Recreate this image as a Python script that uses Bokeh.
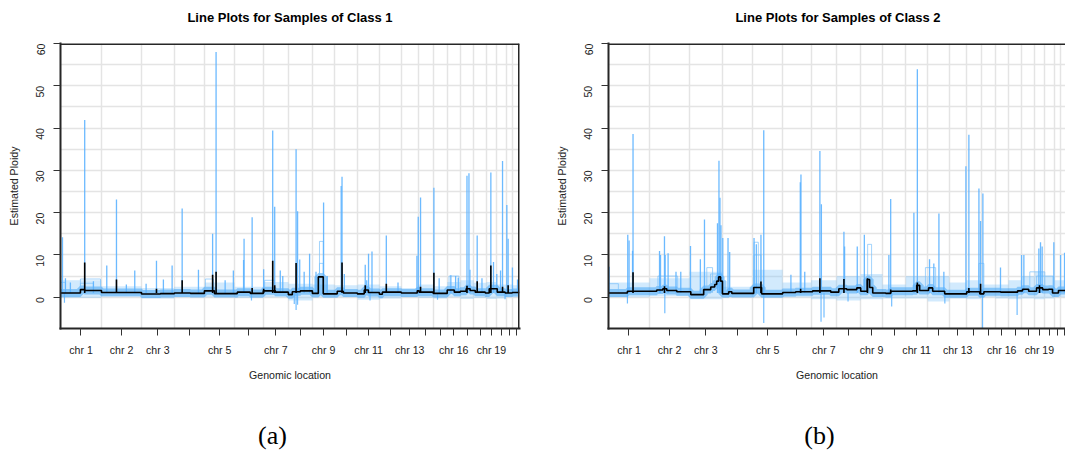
import math
from bokeh.plotting import figure
from bokeh.layouts import row, column
from bokeh.models import FixedTicker, Range1d, Span
from bokeh.core.properties import value
from bokeh.embed import file_html
from bokeh.resources import INLINE

# ---- genome layout (binned length of each autosome, Mb) ----
chrom_names = [str(i) for i in range(1, 23)]
chrom_len = [249, 243, 198, 186, 182, 172, 155, 146, 134, 140, 134,
             132, 101, 91, 85, 81, 81, 77, 61, 61, 38, 41]
labelled_chroms = ["1", "2", "3", "5", "7", "9", "11", "13", "16", "19"]
y_ticks = [0, 10, 20, 30, 40, 50, 60]

# ---- class 1 ----
c1_spike_x = [12, 30, 60, 147, 200, 281, 340, 400, 451, 520, 583, 625, 678, 739,
              838, 924, 945, 1000, 1050, 1112, 1115, 1164, 1234, 1289, 1301, 1335,
              1350, 1431, 1440, 1453, 1480, 1513, 1552, 1598, 1620, 1705, 1710, 1724,
              1851, 1860, 1871, 1892, 1979, 2050, 2165, 2173, 2187, 2268, 2300, 2371,
              2400, 2416, 2469, 2481, 2487, 2531, 2560, 2614, 2630, 2650, 2673, 2685,
              2711, 2719, 2745, 2776]
c1_spike_y = [14.2, 4.5, 3.5, 41.9, 3.8, 7.5, 23.1, 3.0, 6.3, 3.2, 8.6, 4.2, 7.5, 21.0,
              6.5, 15.0, 58.0, 4.0, 6.3, 8.8, 13.8, 18.9, 6.6, 39.4, 21.4, 6.3,
              5.0, 35.0, 20.3, 8.9, 6.0, 10.3, 6.0, 22.4, 5.0, 26.3, 28.5, 5.5,
              7.7, 4.0, 10.3, 10.8, 14.6, 3.5, 9.8, 19.0, 23.6, 25.9, 4.5, 5.2,
              5.0, 4.6, 28.7, 29.3, 6.5, 14.6, 4.5, 29.5, 8.3, 5.5, 6.3, 32.2,
              21.8, 13.8, 7.0, 4.2]
c1_dip_x = [24, 1160, 1420, 1431, 1440, 1880, 2290, 2700]
c1_dip_y = [-1.3, -0.8, -1.6, -3.0, -1.8, -0.8, -0.6, -0.5]
c1_plateau_x0 = [0, 121, 121, 880, 1240, 1573, 1573, 2360]
c1_plateau_x1 = [30, 243, 200, 929, 1300, 1596, 1596, 2420]
c1_plateau_y = [3.5, 4.3, 3.3, 4.3, 4.0, 13.2, 8.0, 5.0]
c1_mean_x = [0, 121, 146, 249, 492, 607, 692, 789, 874, 935, 1074, 1153, 1232, 1305,
             1384, 1408, 1457, 1530, 1566, 1596, 1681, 1718, 1803, 1845, 1870, 1937,
             1955, 2070, 2167, 2179, 2264, 2349, 2392, 2428, 2464, 2488, 2519, 2580,
             2604, 2653, 2701, 2744, 2788]
c1_mean_y = [1.0, 1.8, 1.6, 1.1, 0.75, 0.85, 1.0, 0.9, 1.5, 0.85, 1.2, 0.9, 1.5, 1.2,
             0.6, 1.3, 1.5, 0.9, 4.8, 0.8, 1.4, 1.0, 0.8, 1.7, 1.1, 0.7,
             1.2, 1.0, 1.5, 1.2, 0.9, 1.7, 1.2, 1.4, 2.0, 1.6, 1.2, 1.0,
             2.0, 1.2, 1.0, 1.1, 1.1]
c1_mean_spike_x = [147, 340, 583, 739, 924, 945, 1164, 1234, 1289, 1301, 1431, 1710,
                   1851, 1979, 2187, 2268, 2469, 2531, 2614, 2685, 2719]
c1_mean_spike_y = [8.2, 4.2, 2.0, 4.0, 5.3, 6.0, 2.2, 2.0, 8.6, 2.8, 8.1, 8.2,
                   2.8, 3.2, 2.5, 5.8, 2.7, 3.8, 7.5, 2.5, 2.8]
c1_band_lo = [-0.2, 0.2, -0.3, 0.0, 0.0, -0.2, 0.0, -0.8, 0.0, 0.0, -0.6,
              -0.3, 0.0, -0.2, -0.3, 0.0, -0.4, -0.2, -0.4, -0.3, 0.0, 0.0]
c1_band_hi = [4.0, 2.6, 2.2, 2.5, 3.5, 2.5, 3.6, 3.2, 3.0, 2.8, 3.0,
              2.6, 2.2, 3.0, 2.6, 3.6, 4.0, 3.4, 3.6, 3.0, 3.0, 2.8]

# ---- class 2 ----
c2_spike_x = [4, 117, 125, 146, 149, 310, 316, 340, 344, 362, 410, 439, 498, 558,
              583, 662, 671, 677, 683, 694, 726, 736, 884, 898, 926, 943, 1108,
              1165, 1169, 1192, 1284, 1293, 1430, 1434, 1511, 1554, 1703, 1714, 1855,
              1876, 1950, 1976, 2007, 2037, 2171, 2189, 2250, 2260, 2274, 2381, 2509,
              2523, 2614, 2624, 2634, 2705, 2746, 2770]
c2_spike_y = [7.2, 14.8, 13.4, 11.0, 38.6, 10.9, 10.0, 14.4, 10.0, 10.4, 6.0, 6.0, 12.1, 9.0,
              18.4, 17.5, 32.3, 23.5, 17.0, 14.0, 14.0, 10.7, 14.0, 12.5, 14.8, 39.5, 5.3,
              27.2, 29.0, 6.0, 34.6, 22.0, 15.5, 12.0, 12.0, 14.8, 10.0, 23.2, 20.0,
              53.9, 9.0, 8.0, 19.8, 6.0, 31.0, 38.4, 25.7, 18.0, 24.5, 7.0, 10.0,
              10.0, 11.5, 13.0, 12.0, 13.0, 10.0, 10.5]
c2_dip_x = [115, 342, 943, 1291, 1309, 1455, 1720, 2043, 2272, 2482]
c2_dip_y = [-1.5, -3.8, -6.1, -5.8, -4.8, -1.0, -2.2, -1.5, -7.4, -4.2]
c2_plateau_x0 = [0, 300, 597, 620, 884, 884, 1574, 1925, 2250, 2559, 2600]
c2_plateau_x1 = [60, 420, 632, 690, 926, 910, 1598, 1987, 2280, 2650, 2700]
c2_plateau_y = [3.2, 5.0, 7.0, 5.5, 10.0, 13.0, 12.5, 7.0, 8.0, 6.0, 5.0]
c2_mean_x = [0, 115, 293, 330, 354, 415, 500, 578, 621, 645, 657, 669, 681, 692, 730,
             749, 882, 930, 1058, 1137, 1240, 1350, 1399, 1447, 1508, 1532, 1572, 1586,
             1605, 1684, 1714, 1847, 1872, 1890, 1944, 1969, 2042, 2176, 2255, 2280,
             2382, 2485, 2515, 2552, 2600, 2637, 2673, 2697, 2733, 2788]
c2_mean_y = [1.0, 1.4, 1.7, 2.0, 1.6, 1.3, 0.6, 1.8, 2.4, 3.0, 3.8, 4.8, 3.8, 0.8, 1.3,
             0.9, 2.3, 0.8, 1.1, 1.3, 1.5, 1.2, 2.0, 1.8, 2.2, 1.4, 4.2, 2.3,
             1.0, 0.9, 1.4, 1.5, 2.8, 1.6, 2.2, 1.4, 0.8, 1.3, 0.8, 1.3,
             1.2, 1.5, 1.9, 1.4, 2.2, 1.8, 1.9, 1.0, 1.6, 1.6]
c2_mean_spike_x = [149, 340, 926, 1167, 1284, 1430, 1573, 1714, 1876, 2189, 2260, 2618]
c2_mean_spike_y = [5.9, 2.6, 3.7, 2.0, 4.5, 4.3, 4.5, 1.8, 3.5, 2.2, 3.2, 2.8]
c2_band_lo = [0.0, 0.2, -0.5, 0.0, 0.0, 0.0, -0.5, -0.8, -0.5, -0.3, -0.3,
              -1.0, -0.3, -0.5, 0.0, -0.3, -0.5, -0.3, -0.5, -0.3, 0.0, 0.0]
c2_band_hi = [3.5, 4.5, 6.0, 2.5, 6.5, 3.5, 4.0, 5.0, 5.5, 3.0, 5.0,
              5.0, 3.5, 4.0, 3.0, 3.0, 4.0, 5.0, 6.0, 5.0, 4.0, 4.0]

panel_titles = ["Line Plots for Samples of Class 1", "Line Plots for Samples of Class 2"]
panel_captions = ["(a)", "(b)"]

spike_base = 1.0
y_top = 60

# chromosome starts / ends / centres on the concatenated genome axis
chrom_start = []
acc = 0
for n in chrom_len:
    chrom_start.append(acc)
    acc += n
genome_len = acc
chrom_end = [s + n for s, n in zip(chrom_start, chrom_len)]
chrom_mid = [s + n / 2 for s, n in zip(chrom_start, chrom_len)]

FONT = "Liberation Sans"
BLUE = "#5CB3FF"
TXT = "#222222"
BOX = "#262626"


def panel(width, border_right, x_end, d, right_box):
    p = figure(width=width, height=370, x_range=Range1d(0, x_end), y_range=Range1d(-7.4, y_top),
               output_backend="svg", toolbar_location=None,
               min_border_left=60, min_border_right=border_right,
               min_border_top=13, min_border_bottom=72, background_fill_color="white",
               outline_line_color=None)

    # sample spread around the class mean
    p.varea_step(x=chrom_start + [genome_len], y1=d["lo"] + [d["lo"][-1]],
                 y2=d["hi"] + [d["hi"][-1]], step_mode="after",
                 fill_color="#7DC2FA", fill_alpha=0.35)
    p.step(d["mx"], d["my"], mode="after", line_width=8, line_color="#46A6F5", line_alpha=0.55)

    # stepped segments of individual samples
    xs = [[a, a, b, b] for a, b in zip(d["px0"], d["px1"])]
    ys = [[spike_base, lv, lv, spike_base] for lv in d["py"]]
    p.multi_line(xs, ys, line_color="#7CC2FB", line_width=1, line_alpha=0.7)

    # peaks and dips of individual samples
    p.segment(x0=d["sx"], y0=[spike_base] * len(d["sx"]), x1=d["sx"], y1=d["sy"],
              line_color=BLUE, line_width=1.3, line_alpha=0.9)
    p.segment(x0=d["dx"], y0=[spike_base] * len(d["dx"]), x1=d["dx"], y1=d["dy"],
              line_color=BLUE, line_width=1.2, line_alpha=0.85)

    # class mean
    p.segment(x0=d["msx"], y0=[spike_base] * len(d["msx"]), x1=d["msx"], y1=d["msy"],
              line_color="black", line_width=1.6)
    p.step(d["mx"], d["my"], mode="after", line_width=1.6, line_color="black")

    # axes
    xa = p.xaxis[0]
    xa.ticker = FixedTicker(ticks=chrom_mid)
    xa.major_label_overrides = {m: ("chr " + c if c in labelled_chroms else "")
                                for m, c in zip(chrom_mid, chrom_names)}
    ya = p.yaxis[0]
    ya.ticker = FixedTicker(ticks=y_ticks)
    ya.major_label_orientation = math.pi / 2
    for ax in (xa, ya):
        ax.axis_line_width = 2
        ax.axis_line_color = BOX
        ax.axis_line_cap = "square"
        ax.major_tick_out = 7
        ax.major_tick_in = 0
        ax.minor_tick_out = 0
        ax.minor_tick_in = 0
        ax.major_tick_line_color = "#333333"
        ax.major_label_text_font = FONT
        ax.major_label_text_font_size = "10.6px"
        ax.major_label_text_color = TXT
        ax.axis_label_text_font = FONT
        ax.axis_label_text_font_size = "10.6px"
        ax.axis_label_text_font_style = "normal"
        ax.axis_label_text_color = TXT
    xa.axis_label = "Genomic location"
    xa.major_label_standoff = 8
    xa.axis_label_standoff = 10
    ya.axis_label = "Estimated Ploidy"
    ya.major_label_standoff = 13
    ya.axis_label_standoff = 10

    # remaining sides of the plot box
    p.add_layout(Span(location=y_top, dimension="width", line_color=BOX, line_width=3))
    if right_box:
        p.add_layout(Span(location=x_end, dimension="height", line_color=BOX, line_width=3))

    # grid: chromosome boundaries and every 5 ploidy units
    p.xgrid.ticker = FixedTicker(ticks=chrom_end[:-1])
    p.ygrid.ticker = FixedTicker(ticks=list(range(0, 60, 5)))
    for g in (p.xgrid[0], p.ygrid[0]):
        g.grid_line_color = "#E4E4E4"
        g.grid_line_width = 1.5
    return p


def text_strip(height, xs, ys, texts, font, size, style):
    s = figure(width=1065, height=height, x_range=Range1d(0, 1065), y_range=Range1d(0, height),
               output_backend="svg", toolbar_location=None, min_border=0,
               outline_line_color=None, x_axis_location=None, y_axis_location=None)
    s.grid.visible = False
    s.text(x=xs, y=ys, text=texts, text_align="center", text_baseline="middle",
           text_font=value(font), text_font_size=size, text_font_style=style,
           text_color="black")
    return s


d1 = dict(sx=c1_spike_x, sy=c1_spike_y, dx=c1_dip_x, dy=c1_dip_y,
          px0=c1_plateau_x0, px1=c1_plateau_x1, py=c1_plateau_y,
          mx=c1_mean_x, my=c1_mean_y, msx=c1_mean_spike_x, msy=c1_mean_spike_y,
          lo=c1_band_lo, hi=c1_band_hi)
d2 = dict(sx=c2_spike_x, sy=c2_spike_y, dx=c2_dip_x, dy=c2_dip_y,
          px0=c2_plateau_x0, px1=c2_plateau_x1, py=c2_plateau_y,
          mx=c2_mean_x, my=c2_mean_y, msx=c2_mean_spike_x, msy=c2_mean_spike_y,
          lo=c2_band_lo, hi=c2_band_hi)

p1 = panel(548, 29, genome_len, d1, True)
# the second panel runs off the right edge of the page, so its visible window is narrower
p2 = panel(517, 0, genome_len * 457 / 459, d2, False)

# panel titles over the plot boxes, sub-figure captions under each sub-figure
head = text_strip(30, [289.5, 837.5], [13, 13], panel_titles, FONT, "13px", "bold")
cap = text_strip(50, [272, 819], [15, 15], panel_captions, "Liberation Serif", "26px", "normal")

layout = column(head, row(p1, p2, spacing=0), cap, spacing=0)
open("out.html", "w").write(file_html(layout, INLINE))
